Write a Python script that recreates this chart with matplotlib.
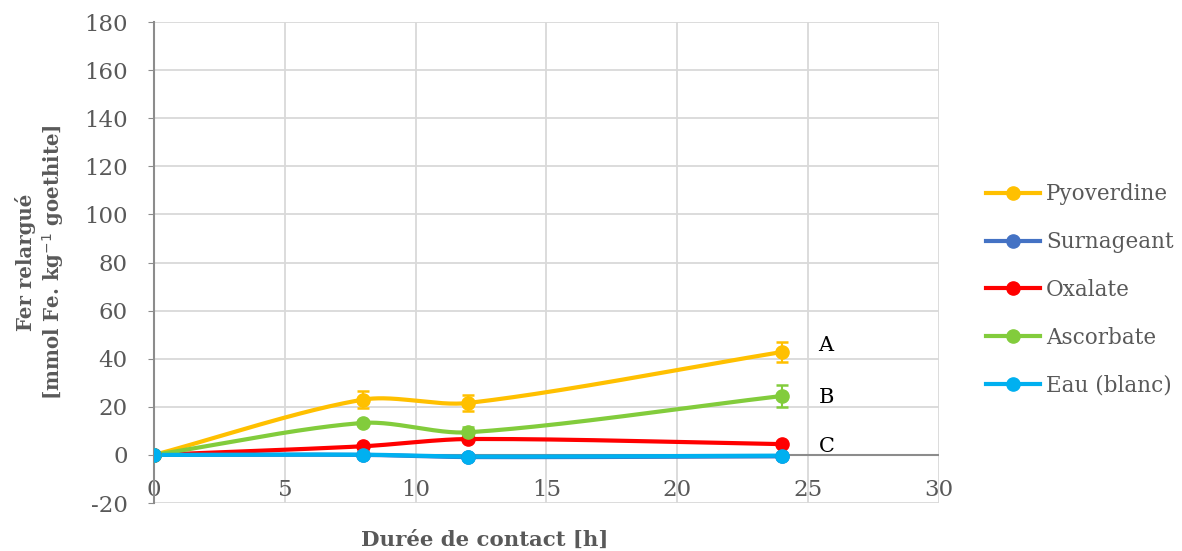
import numpy as np
import matplotlib.pyplot as plt

# temps de contact (h)
temps = [0, 8, 12, 24]

# fer relargué (mmol Fe / kg goethite)
pyoverdine = [0, 23.0, 21.6, 42.8]
surnageant = [0, 0.0, -0.9, -0.6]
oxalate = [0, 3.6, 6.6, 4.5]
ascorbate = [0, 13.3, 9.4, 24.5]
eau = [0, 0.1, -0.7, -0.3]

# écarts-types
err_pyoverdine = [0, 3.7, 3.5, 4.0]
err_ascorbate = [0, 0, 2.0, 4.4]

series = [
    ('Pyoverdine', pyoverdine, err_pyoverdine, '#FFC000'),
    ('Surnageant', surnageant, None, '#4472C4'),
    ('Oxalate', oxalate, None, '#FF0000'),
    ('Ascorbate', ascorbate, err_ascorbate, '#82CC3C'),
    ('Eau (blanc)', eau, None, '#00B0F0'),
]

lettres = ['A', 'B', 'C']
lettres_y = [45.5, 24.0, 3.5]

gris = '#595959'
plt.rcParams['font.family'] = 'DejaVu Serif'
plt.rcParams['axes.unicode_minus'] = False

fig = plt.figure(figsize=(11.82, 5.51), dpi=100)
ax = fig.add_axes([0.1303, 0.0871, 0.6641, 0.8729])
ax.set_xlim(0, 30)
ax.set_ylim(-20, 180)


def lisse(x, y, k=0.3, n=60):
    # courbe de Bézier lissée, poignées proportionnelles aux segments (coord. écran)
    p = ax.transData.transform(np.column_stack([x, y]))
    m = len(p)
    tang = np.zeros_like(p)
    for i in range(m):
        a = p[max(i - 1, 0)]
        b = p[min(i + 1, m - 1)]
        d = b - a
        tang[i] = d / np.hypot(*d)
    out = []
    for i in range(m - 1):
        p1, p2 = p[i], p[i + 1]
        L = np.hypot(*(p2 - p1))
        c1 = p1 + tang[i] * L * k
        c2 = p2 - tang[i + 1] * L * k
        t = np.linspace(0, 1, n)[:, None]
        seg = ((1 - t) ** 3 * p1 + 3 * (1 - t) ** 2 * t * c1
               + 3 * (1 - t) * t ** 2 * c2 + t ** 3 * p2)
        out.append(seg)
    out = np.vstack(out)
    d = ax.transData.inverted().transform(out)
    return d[:, 0], d[:, 1]


for nom, y, err, c in series:
    xs, ys = lisse(temps, y)
    ax.plot(xs, ys, color=c, lw=3.0, solid_capstyle='round', zorder=3)
    if err is not None:
        ax.errorbar(temps, y, yerr=err, fmt='none', ecolor=c, elinewidth=1.5,
                    capsize=4.5, capthick=1.8, zorder=3)
    ax.plot(temps, y, 'o', color=c, ms=9.5, zorder=4)
    ax.plot([], [], '-o', color=c, lw=3.0, ms=9.5, label=nom)

for lt, ly in zip(lettres, lettres_y):
    ax.text(25.4, ly, lt, fontsize=15, color='black', va='center', ha='left')

# grille et axes
ax.set_xticks(np.arange(0, 31, 5))
ax.set_yticks(np.arange(-20, 181, 20))
ax.grid(True, color='#D9D9D9', lw=1.3)
ax.set_axisbelow(True)
ax.axhline(0, color='#8C8C8C', lw=1.5, zorder=2)
for s in ['top', 'right', 'bottom']:
    ax.spines[s].set_visible(False)
ax.spines['left'].set_color('#8C8C8C')
ax.spines['left'].set_linewidth(1.5)
ax.tick_params(axis='y', colors='#8C8C8C', length=4, labelcolor=gris,
               labelsize=16.5, pad=15)
ax.tick_params(axis='x', length=0, labelcolor=gris, labelsize=16.5, pad=-17)

ax.set_ylabel('Fer relargué\n[mmol Fe. kg$^{-1}$ goethite]', fontsize=14.2,
              fontweight='bold', color=gris, labelpad=13)
fig.text(485 / 1182, 1 - 540 / 551, 'Durée de contact [h]', fontsize=15.3,
         fontweight='bold', color=gris, ha='center', va='center')

ax.legend(loc='center left', bbox_to_anchor=(1.035, 0.443), frameon=False,
          fontsize=15.5, labelcolor=gris, handlelength=2.5, handletextpad=0.3,
          labelspacing=1.2)

fig.savefig('out.png', dpi=100)
